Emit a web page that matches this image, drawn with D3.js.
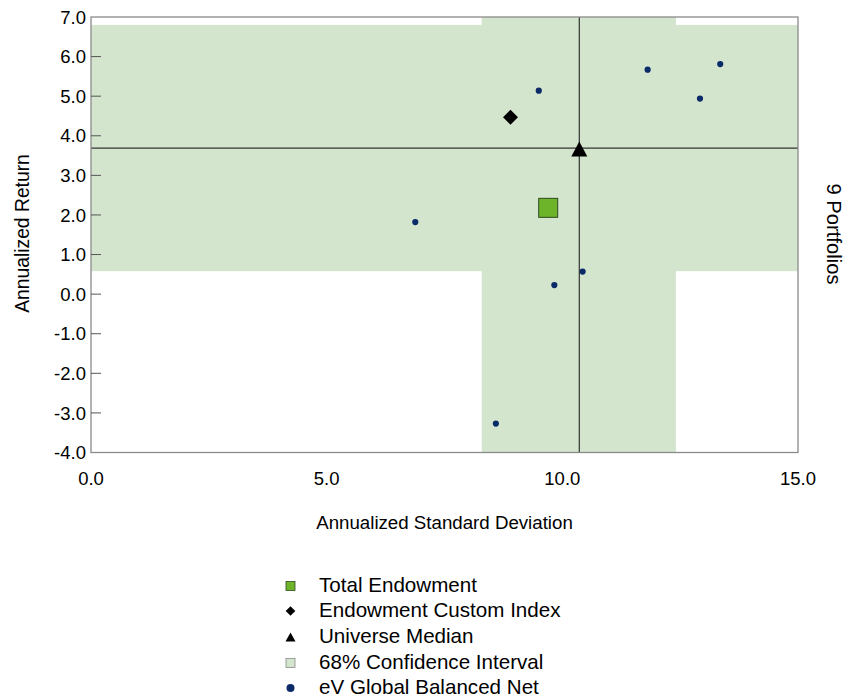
<!DOCTYPE html>
<html>
<head>
<meta charset="utf-8">
<script src="https://cdn.jsdelivr.net/npm/d3@7"></script>
<style>
  body { margin: 0; background: #fff; }
  text { font-family: "Liberation Sans", Arial, sans-serif; fill: #000; }
</style>
</head>
<body>
<svg id="chart" width="844" height="700"></svg>
<script>
// ---- data ----
const xTicks = [0, 5, 10, 15];
const yTicks = [7, 6, 5, 4, 3, 2, 1, 0, -1, -2, -3, -4];
const peerStdDev = [9.50, 11.81, 12.92, 13.35, 6.88, 10.43, 9.83, 8.59];
const peerReturn = [5.14, 5.67, 4.94, 5.81, 1.82, 0.57, 0.23, -3.27];
const totalEndowment = [9.70, 2.18];
const customIndex = [8.90, 4.47];
const universeMedian = [10.36, 3.69];
const confStdDev = [8.29, 12.41];
const confReturn = [0.58, 6.80];
const legendLabels = ["Total Endowment", "Endowment Custom Index", "Universe Median", "68% Confidence Interval", "eV Global Balanced Net"];
const portfolioCount = "9 Portfolios";

const svg = d3.select("#chart");
const L = 91, R = 798, T = 17, B = 452.5;
const x = d3.scaleLinear().domain([0, 15]).range([L, R]);
const y = d3.scaleLinear().domain([-4, 7]).range([B, T]);

const bandColor = "#d4e5cd";
const dotColor = "#0b2a68";
svg.append("clipPath").attr("id", "clip").append("rect")
  .attr("x", L).attr("y", T).attr("width", R - L).attr("height", B - T);
const g = svg.append("g").attr("clip-path", "url(#clip)");

// confidence bands
g.append("rect").attr("x", x(0)).attr("width", x(15) - x(0))
  .attr("y", y(confReturn[1])).attr("height", y(confReturn[0]) - y(confReturn[1]))
  .attr("fill", bandColor);
g.append("rect").attr("x", x(confStdDev[0])).attr("width", x(confStdDev[1]) - x(confStdDev[0]))
  .attr("y", y(7)).attr("height", y(-4) - y(7))
  .attr("fill", bandColor);

// median lines
g.append("line").attr("x1", x(universeMedian[0])).attr("x2", x(universeMedian[0]))
  .attr("y1", y(7)).attr("y2", y(-4)).attr("stroke", "#333").attr("stroke-width", 1.2);
g.append("line").attr("x1", x(0)).attr("x2", x(15))
  .attr("y1", y(universeMedian[1])).attr("y2", y(universeMedian[1])).attr("stroke", "#333").attr("stroke-width", 1.2);

// frame
svg.append("rect").attr("x", L).attr("y", T).attr("width", R - L).attr("height", B - T)
  .attr("fill", "none").attr("stroke", "#8a8a8a").attr("stroke-width", 1.3);

// y ticks
const yAxis = svg.append("g");
yAxis.selectAll("line").data(yTicks.filter(d => d !== 7 && d !== -4)).join("line")
  .attr("x1", L).attr("x2", L + 10).attr("y1", d => y(d)).attr("y2", d => y(d))
  .attr("stroke", "#555").attr("stroke-width", 1);
yAxis.selectAll("text").data(yTicks).join("text")
  .attr("x", L - 5).attr("y", d => y(d)).attr("dy", "0.36em")
  .attr("text-anchor", "end").attr("font-size", 18.5)
  .text(d => d.toFixed(1));

// x tick labels
svg.append("g").selectAll("text").data(xTicks).join("text")
  .attr("x", d => x(d)).attr("y", 478).attr("dy", "0.36em")
  .attr("text-anchor", "middle").attr("font-size", 18.5)
  .text(d => d.toFixed(1));

// axis titles
svg.append("text").attr("x", 444.5).attr("y", 522).attr("dy", "0.36em")
  .attr("text-anchor", "middle").attr("font-size", 18.7).text("Annualized Standard Deviation");
svg.append("text").attr("transform", "translate(22,233.5) rotate(-90)").attr("dy", "0.36em")
  .attr("text-anchor", "middle").attr("font-size", 19.3).text("Annualized Return");
svg.append("text").attr("transform", "translate(834,234) rotate(90)").attr("dy", "0.36em")
  .attr("text-anchor", "middle").attr("font-size", 20.2).text(portfolioCount);

// points
g.selectAll("circle.peer").data(peerStdDev.map((d, i) => [d, peerReturn[i]])).join("circle")
  .attr("class", "peer").attr("cx", d => x(d[0])).attr("cy", d => y(d[1])).attr("r", 3.1)
  .attr("fill", dotColor);

const diamond = h => `M0,${-h}L${h},0L0,${h}L${-h},0Z`;
const triangle = (w, h) => `M0,${-h / 2}L${w / 2},${h / 2}L${-w / 2},${h / 2}Z`;

g.append("path").attr("d", diamond(7.5))
  .attr("transform", `translate(${x(customIndex[0])},${y(customIndex[1])})`).attr("fill", "#000");
g.append("path").attr("d", triangle(16, 15))
  .attr("transform", `translate(${x(universeMedian[0])},${y(universeMedian[1]) + 1})`).attr("fill", "#000");
g.append("rect").attr("x", x(totalEndowment[0]) - 9.5).attr("y", y(totalEndowment[1]) - 9.5)
  .attr("width", 19).attr("height", 19).attr("fill", "#6db42b").attr("stroke", "#2e4a1f").attr("stroke-width", 1);

// legend
const legY = [586, 611, 637, 663, 688];
const lg = svg.append("g");
const mx = 290.5;
lg.append("rect").attr("x", mx - 4.5).attr("y", legY[0] - 4.5).attr("width", 9).attr("height", 9)
  .attr("fill", "#6db42b").attr("stroke", "#2e4a1f").attr("stroke-width", 0.8);
lg.append("path").attr("d", diamond(4.8))
  .attr("transform", `translate(${mx},${legY[1]})`).attr("fill", "#000");
lg.append("path").attr("d", triangle(10, 9))
  .attr("transform", `translate(${mx},${legY[2]})`).attr("fill", "#000");
lg.append("rect").attr("x", mx - 4.5).attr("y", legY[3] - 4.5).attr("width", 9).attr("height", 9)
  .attr("fill", bandColor).attr("stroke", "#8a8a8a").attr("stroke-width", 0.8);
lg.append("circle").attr("cx", mx).attr("cy", legY[4]).attr("r", 4).attr("fill", dotColor);
lg.selectAll("text").data(legendLabels).join("text")
  .attr("x", 319).attr("y", (d, i) => legY[i] - 1).attr("dy", "0.36em")
  .attr("font-size", 20.6).text(d => d);
</script>
</body>
</html>
